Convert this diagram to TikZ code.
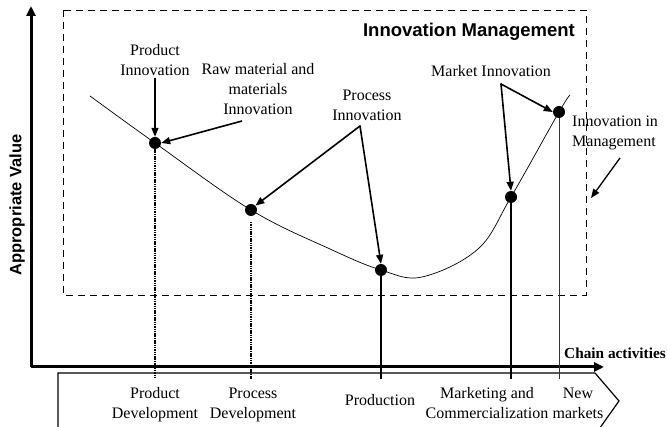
\documentclass[tikz,border=0pt]{standalone}
\usepackage{fontspec}
\setmainfont{Liberation Serif}
\newfontfamily\arialfont{Liberation Sans}
\usetikzlibrary{arrows.meta}
\begin{document}
\begin{tikzpicture}[x=1pt,y=-1pt,
  lbl/.style={font=\fontsize{16}{20}\selectfont, align=center, inner sep=0pt},
  dot/.style={circle, fill=black, minimum size=12pt, inner sep=0pt},
  ptr/.style={line width=1.6pt, -{Triangle[length=9pt,width=7pt]}},
  axis/.style={line width=3pt, -{Triangle[length=10pt,width=9pt]}},
  dotline/.style={line width=1.6pt, dash pattern=on 1.5pt off 0.8pt},
  solidline/.style={line width=1.8pt},
]
\useasboundingbox (0,0) rectangle (667,427);
\clip (0,0) rectangle (667,427);

% dashed management box
\draw[line width=0.9pt, dash pattern=on 7pt off 5pt] (63,10) rectangle (586,295);
\node[font=\arialfont\bfseries\fontsize{18.5}{22}\selectfont, anchor=east, inner sep=0pt] (im) at (575,32) {Innovation Management};

% chevron band
\draw[line width=1.2pt] (58,432) -- (58,373) -- (595,373) -- (619,401) -- (597,432);

% axes
\coordinate (o) at (31,367);
\coordinate (ytip) at (31,6);
\coordinate (xtip) at (604,367);
\draw[axis] (o) -- (ytip);
\draw[axis] (o) -- (xtip);
\node[font=\arialfont\bfseries\fontsize{16.5}{20}\selectfont, rotate=90, inner sep=0pt] (av) at (17,205) {Appropriate Value};
\node[font=\bfseries\fontsize{15.3}{18}\selectfont, anchor=east, inner sep=0pt] (ca) at (666,353) {Chain activities};

% curve
\draw[line width=0.7pt] plot[smooth, tension=0.6] coordinates {(90,96) (155,143) (251,210) (330,249) (381,270) (422,277) (478,249) (511,197) (559,112) (570,95)};

% dots
\node[dot] (d1) at (155,143) {};
\node[dot] (d2) at (251,210) {};
\node[dot] (d3) at (381,270) {};
\node[dot] (d4) at (511,197) {};
\node[dot] (d5) at (559,112) {};

% vertical lines to the chain
\coordinate (b1) at (155,379);
\coordinate (b2) at (251,379);
\coordinate (b3) at (381,379);
\coordinate (b4) at (511,379);
\coordinate (b5) at (559,379);
\coordinate (t2) at (251,222);
\draw[dotline] (d1) -- (b1);
\draw[dotline] (t2) -- (b2);
\draw[solidline] (d3) -- (b3);
\draw[solidline] (d4) -- (b4);
\draw[line width=0.9pt, black!80] (d5) -- (b5);

% top labels
\node[lbl] (pi) at (155,60) {Product\\Innovation};
\node[lbl] (rm) at (258,89) {Raw material and\\materials\\Innovation};
\node[lbl] (pri) at (367,105) {Process\\Innovation};
\node[lbl] (mi) at (491,71) {Market Innovation};
\node[lbl, align=left, anchor=west] (iim) at (572,133) {Innovation in\\Management};

% pointers
\coordinate (s1) at (155,78);
\coordinate (s2) at (242,121);
\coordinate (s3) at (360,126);
\coordinate (s4) at (501,84);
\coordinate (s5) at (620,158);
\coordinate (e5) at (591,198);
\draw[ptr] (s1) -- (d1.north);
\draw[ptr] (s2) -- (d1.east);
\draw[ptr, line cap=round] (s3) -- (d2.north east);
\draw[ptr, line cap=round] (s3) -- (d3.north);
\draw[ptr, line cap=round] (s4) -- (d4.north);
\draw[ptr, line cap=round] (s4) -- (d5.west);
\draw[ptr, line width=1.3pt] (s5) -- (e5);

% bottom labels
\node[lbl] (pd) at (155,405) {Product\\Development};
\node[lbl] (prd) at (253,405) {Process\\Development};
\node[lbl] (prod) at (380,400) {Production};
\node[lbl] (mc) at (487,403) {Marketing and\\Commercialization};
\node[lbl] (nm) at (578,403) {New\\markets};
\end{tikzpicture}
\end{document}
